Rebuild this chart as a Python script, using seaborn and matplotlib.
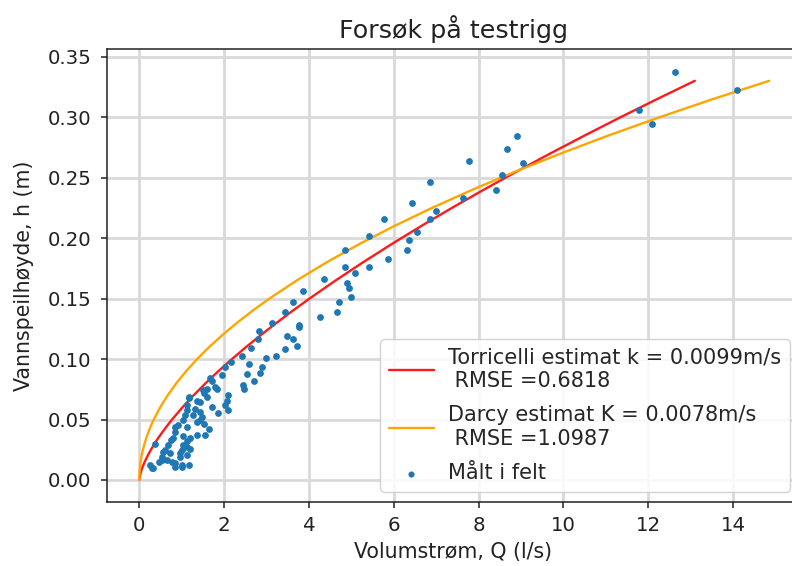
import numpy as np
import pandas as pd
import matplotlib
matplotlib.use("Agg")
import matplotlib.pyplot as plt
import seaborn as sns

# Measured field data: flow Q (l/s) and water level h (m)
meas_Q = [12.63, 11.79, 12.09, 14.09,
          8.66, 8.90, 7.78, 9.04, 8.55, 8.41, 7.63,
          6.86, 6.42, 7.00, 6.86, 5.78, 6.56, 6.36, 6.31, 5.42, 5.87,
          4.85, 4.85, 5.42, 5.09, 4.36, 4.89, 4.95, 3.87, 4.99, 4.71, 3.63, 4.66, 4.26,
          3.43, 3.14, 2.83, 2.80, 3.77, 3.77, 3.48, 3.63, 3.73, 3.44, 3.23, 2.99, 2.64, 2.41,
          2.16, 2.02, 1.96, 2.59, 2.89, 2.55, 2.85, 1.67,
          2.71, 2.45, 2.47, 1.72, 1.83, 1.60, 2.08, 2.06, 2.02, 2.08, 1.86, 1.72, 1.53, 1.43,
          1.42, 1.47, 1.43, 1.53, 1.64, 1.54,
          1.18, 1.13, 1.12, 1.08, 1.04, 1.13, 0.92, 0.84, 0.80, 1.04, 1.13, 1.20, 1.04, 1.00,
          1.13, 0.96, 1.18, 1.00, 0.72, 0.68, 0.61, 0.53, 0.76, 0.84, 0.47, 0.37, 0.25, 0.29,
          1.27, 1.31, 0.75, 1.35, 1.37,
          1.16, 1.35, 1.51, 1.59, 1.79, 1.20, 1.12, 0.96, 0.53, 0.33, 0.65, 0.84, 1.00, 0.57, 0.84]
meas_h = [0.337, 0.306, 0.294, 0.322,
          0.274, 0.284, 0.264, 0.262, 0.252, 0.240, 0.233,
          0.246, 0.229, 0.222, 0.216, 0.216, 0.205, 0.198, 0.190, 0.202, 0.183,
          0.190, 0.176, 0.176, 0.171, 0.166, 0.163, 0.159, 0.156, 0.151, 0.147, 0.147, 0.139, 0.135,
          0.139, 0.130, 0.1235, 0.1166, 0.128, 0.1265, 0.119, 0.1166, 0.111, 0.108, 0.1025, 0.1006, 0.109, 0.1025,
          0.0973, 0.093, 0.087, 0.0956, 0.0937, 0.0874, 0.0887, 0.084,
          0.082, 0.0785, 0.075, 0.0818, 0.075, 0.075, 0.070, 0.065, 0.062, 0.058, 0.055, 0.060, 0.0717, 0.0647,
          0.0565, 0.052, 0.0496, 0.046, 0.042, 0.037,
          0.0675, 0.062, 0.058, 0.054, 0.0496, 0.044, 0.0455, 0.040, 0.0345, 0.036, 0.032, 0.026, 0.029, 0.025,
          0.021, 0.019, 0.0124, 0.0124, 0.022, 0.029, 0.025, 0.019, 0.015, 0.011, 0.015, 0.030, 0.0124, 0.0097,
          0.054, 0.059, 0.033, 0.037, 0.048,
          0.069, 0.065, 0.074, 0.069, 0.077, 0.0345, 0.0276, 0.022, 0.0165, 0.0097, 0.0165, 0.0138, 0.011, 0.0234, 0.044]

# Water levels along the two estimate curves
curve_h = [0.0, 0.001, 0.002, 0.003, 0.005, 0.0075, 0.01, 0.0125, 0.015, 0.02, 0.025, 0.03,
           0.035, 0.04, 0.045, 0.05, 0.06, 0.07, 0.08, 0.09, 0.1, 0.11, 0.12, 0.13, 0.14, 0.15,
           0.165, 0.18, 0.195, 0.21, 0.225, 0.24, 0.255, 0.27, 0.285, 0.3, 0.315, 0.33]
# Torricelli estimate flow
torr_Q = [0.0, 0.0022, 0.0062, 0.0114, 0.0244, 0.0449, 0.0691, 0.0966, 0.1269, 0.1954, 0.2731, 0.3591,
          0.4525, 0.5528, 0.6596, 0.7726, 1.0156, 1.2798, 1.5636, 1.8657, 2.1851, 2.5210, 2.8724, 3.2389,
          3.6197, 4.0144, 4.6313, 5.2770, 5.9501, 6.6498, 7.3748, 8.1245, 8.8980, 9.6945, 10.5133,
          11.3543, 12.2164, 13.0993]
# Darcy estimate flow
darcy_Q = [0.0, 0.00014, 0.00055, 0.00123, 0.0034, 0.0077, 0.0136, 0.0213, 0.0307, 0.0546, 0.0853,
           0.1228, 0.1671, 0.2182, 0.2762, 0.341, 0.491, 0.6684, 0.873, 1.1048, 1.364, 1.6504, 1.9642,
           2.3052, 2.6734, 3.069, 3.7135, 4.4194, 5.1866, 6.0152, 6.9053, 7.8566, 8.8694, 9.9436,
           11.0791, 12.276, 13.5343, 14.854]

x_ticks = [0, 2, 4, 6, 8, 10, 12, 14]
y_ticks = [0.00, 0.05, 0.10, 0.15, 0.20, 0.25, 0.30, 0.35]

title = "Forsøk på testrigg"
xlabel = "Volumstrøm, Q (l/s)"
ylabel = "Vannspeilhøyde, h (m)"
lab_torr = "Torricelli estimat k = 0.0099m/s\n RMSE =0.6818"
lab_darcy = "Darcy estimat K = 0.0078m/s\n RMSE =1.0987"
lab_meas = "Målt i felt"

sns.set_theme(style="ticks")
plt.rcParams["font.family"] = ["DejaVu Sans"]

fig = plt.figure(figsize=(7.92, 5.66), dpi=100)
ax = fig.add_axes([107 / 792, (566 - 502) / 566, 693 / 792, 453 / 566])

df_t = pd.DataFrame({"Q": torr_Q, "h": curve_h})
df_d = pd.DataFrame({"Q": darcy_Q, "h": curve_h})
df_m = pd.DataFrame({"Q": meas_Q, "h": meas_h})

sns.lineplot(data=df_t, x="Q", y="h", ax=ax, color="#ff1a1a", lw=1.7,
             estimator=None, sort=False, label=lab_torr, zorder=3)
sns.lineplot(data=df_d, x="Q", y="h", ax=ax, color="orange", lw=1.7,
             estimator=None, sort=False, label=lab_darcy, zorder=3)
sns.scatterplot(data=df_m, x="Q", y="h", ax=ax, color="#1f77b4", s=24,
                linewidth=0, label=lab_meas, zorder=4)

ax.set_xlim(-0.762, 15.58)
ax.set_ylim(-0.0182, 0.3563)
ax.set_xticks(x_ticks)
ax.set_yticks(y_ticks)
ax.set_yticklabels([f"{v:.2f}" for v in y_ticks])
ax.grid(True, color="#d9d9d9", lw=2.0)
ax.set_axisbelow(True)
for s in ax.spines.values():
    s.set_visible(True)
    s.set_color("#222222")
    s.set_linewidth(1.1)
ax.tick_params(axis="both", labelsize=14.2, direction="out", length=4.3, width=1.1,
               color="#222222", labelcolor="#222222")
ax.tick_params(axis="y", pad=7)
ax.tick_params(axis="x", pad=5.5)

ax.set_title(title, fontsize=18.3, color="#222222", pad=8)
ax.set_xlabel(xlabel, fontsize=14.8, color="#222222", labelpad=5)
ax.set_ylabel(ylabel, fontsize=14.8, color="#222222", labelpad=10)

leg = ax.legend(loc="lower right", fontsize=15, frameon=True, framealpha=0.85,
                edgecolor="#cccccc", markerscale=0.9, handlelength=2.15,
                handletextpad=0.7, labelspacing=0.7, borderaxespad=0.5)
leg.get_frame().set_linewidth(1.0)

fig.savefig("out.png", dpi=100)
